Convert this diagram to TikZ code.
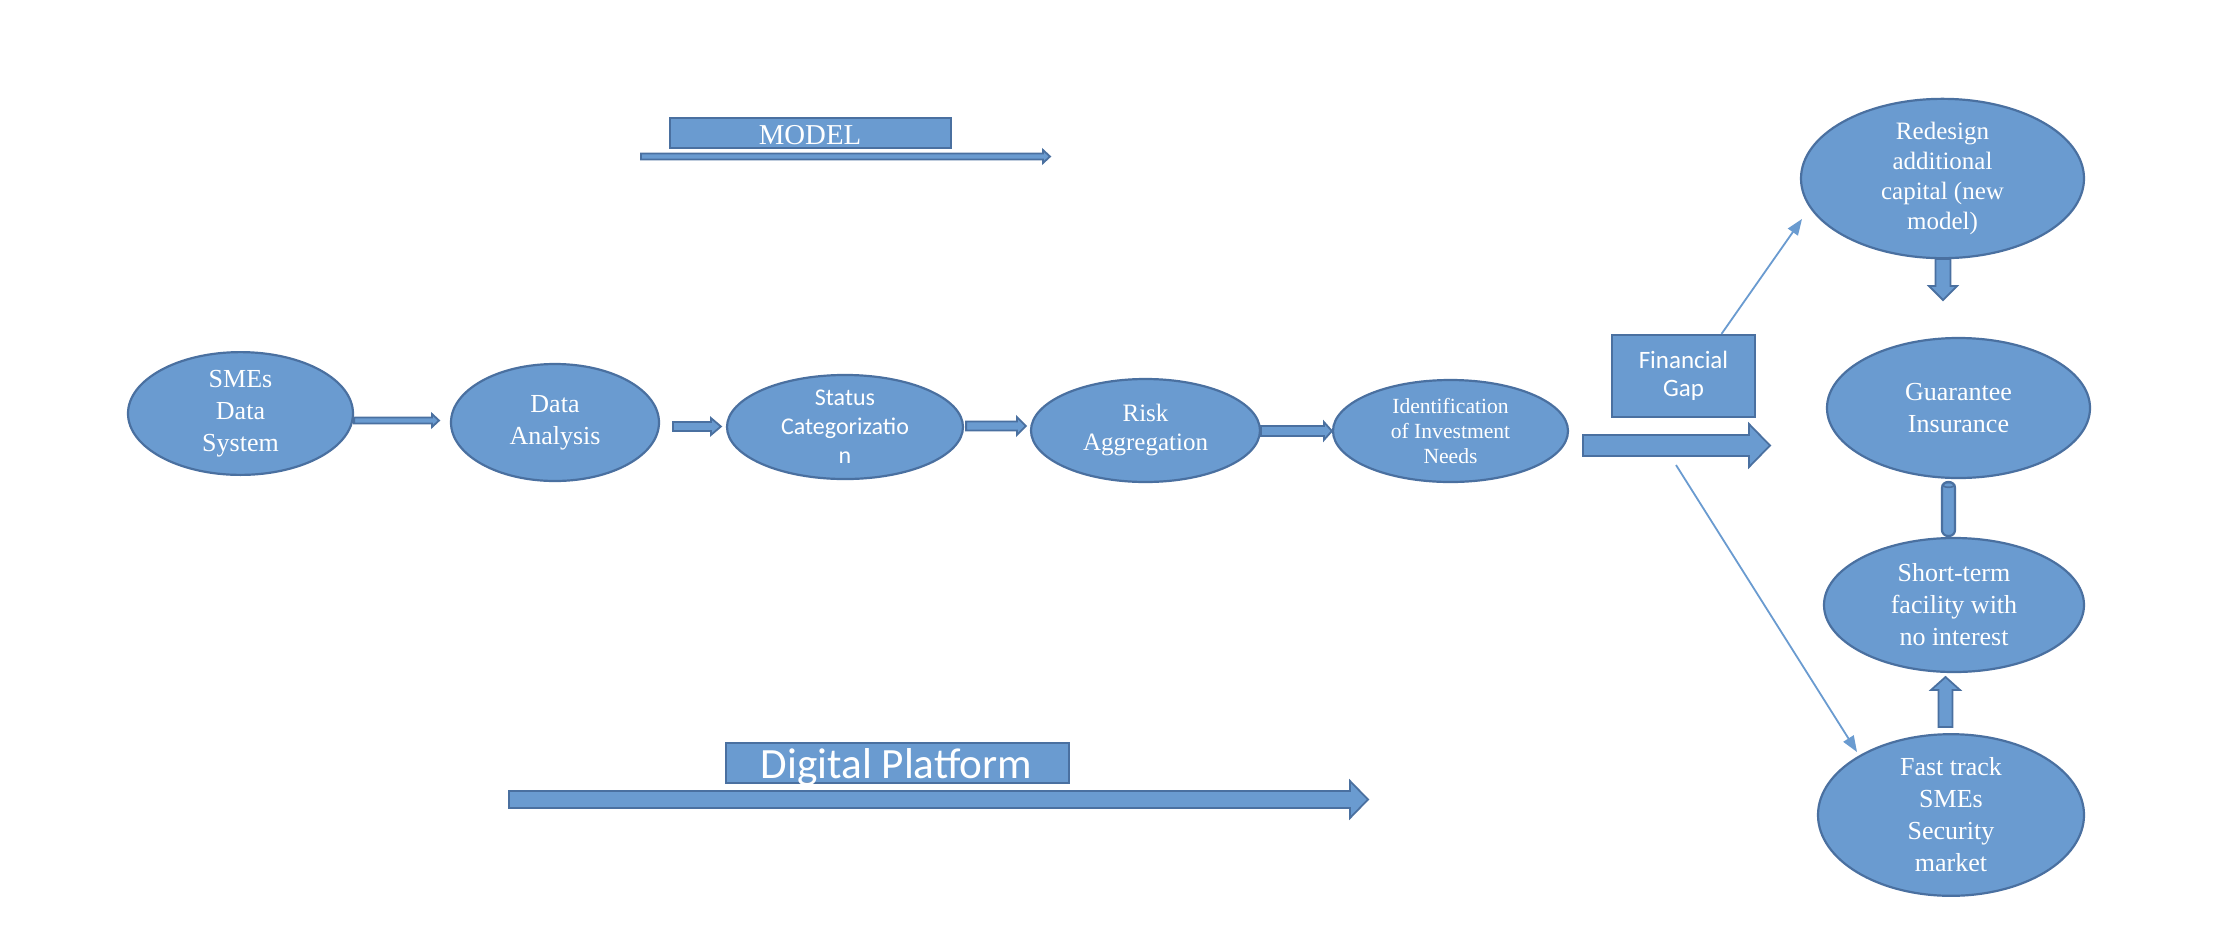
\documentclass[tikz,border=0pt]{standalone}
\usepackage{fontspec}
\setmainfont{Liberation Serif}
\newfontfamily\calib{Carlito}
\usetikzlibrary{shapes.geometric,arrows.meta,calc}
\definecolor{bfill}{HTML}{6A9BD0}
\definecolor{bdraw}{HTML}{4A70A0}
\definecolor{lline}{HTML}{6A9BD0}
% horizontal block arrow: #1 start, #2 tip, #3 shaft half, #4 head half, #5 head length (px)
\newcommand\harrow[5]{\path[barr] let \p1=(#1), \p2=(#2), \n1={ifthenelse(\x2>\x1,1,-1)} in
  (\x1,\y1+#3*0.5pt) -- (\x2-\n1*#5*0.5pt,\y1+#3*0.5pt) -- (\x2-\n1*#5*0.5pt,\y1+#4*0.5pt) --
  (\x2,\y1) -- (\x2-\n1*#5*0.5pt,\y1-#4*0.5pt) -- (\x2-\n1*#5*0.5pt,\y1-#3*0.5pt) --
  (\x1,\y1-#3*0.5pt) -- cycle;}
% vertical block arrow
\newcommand\varrow[5]{\path[barr] let \p1=(#1), \p2=(#2), \n1={ifthenelse(\y2>\y1,1,-1)} in
  (\x1+#3*0.5pt,\y1) -- (\x1+#3*0.5pt,\y2-\n1*#5*0.5pt) -- (\x1+#4*0.5pt,\y2-\n1*#5*0.5pt) --
  (\x1,\y2) -- (\x1-#4*0.5pt,\y2-\n1*#5*0.5pt) -- (\x1-#3*0.5pt,\y2-\n1*#5*0.5pt) --
  (\x1-#3*0.5pt,\y1) -- cycle;}
\begin{document}
\begin{tikzpicture}[x=0.5pt,y=-0.5pt,
  ell/.style={ellipse, draw=bdraw, fill=bfill, line width=1.1pt, text=white, align=center,
    inner sep=0pt, font=\fontsize{13}{16}\selectfont},
  box/.style={rectangle, draw=bdraw, fill=bfill, line width=1.1pt, text=white, align=center, inner sep=0pt},
  barr/.style={draw=bdraw, fill=bfill, line width=0.9pt, line join=miter},
  thinarr/.style={draw=lline, line width=0.9pt, -{Triangle[length=8pt,width=6pt]}},
  lbl/.style={text=white, inner sep=0pt, anchor=base}]
\useasboundingbox (0,0) rectangle (2240,944);
\fill[white] (0,0) rectangle (2240,944);

% top label
\node[box, minimum width=140.5pt, minimum height=15pt] (modelbox) at (810.5,133) {};
\node[lbl, font=\fontsize{14.4}{16}\selectfont] (modeltxt) at (810,144) {MODEL};
\coordinate (ms) at (641,156.5);
\coordinate (me) at (1050,156.5);
\harrow{ms}{me}{3}{6.5}{7}

% main chain
\node[ell, minimum width=112.5pt, minimum height=58.5pt] (sme) at (240.5,413.5) {SMEs\\Data\\System};
\node[ell, minimum width=104pt, minimum height=58.5pt] (da) at (555,422.5) {Data\\Analysis};
\node[ell, minimum width=118pt, minimum height=50pt, font=\calib\fontsize{12}{14.5}\selectfont] (sc) at (845,427) {Status\\Categorizatio\\n};
\node[ell, minimum width=114.5pt, minimum height=51.5pt, font=\fontsize{12.5}{14.5}\selectfont] (ra) at (1145.5,430.5) {Risk\\Aggregation};
\node[ell, minimum width=117.5pt, minimum height=51pt, font=\fontsize{10.8}{12.5}\selectfont] (ii) at (1450.5,431) {Identification\\of Investment\\Needs};

\coordinate (a1s) at ($(sme.east |- 0,420.5)$);
\coordinate (a1e) at (439,420.5);
\harrow{a1s}{a1e}{3}{6.5}{7}
\coordinate (a2s) at (673,426.5);
\coordinate (a2e) at ($(sc.west |- 0,426.5)+(-5,0)$);
\harrow{a2s}{a2e}{4.5}{8.5}{10}
\coordinate (a3s) at ($(sc.east |- 0,426)+(2,0)$);
\coordinate (a3e) at ($(ra.west |- 0,426)+(-4,0)$);
\harrow{a3s}{a3e}{4.5}{9}{9}
\coordinate (a4s) at (1261,431);
\coordinate (a4e) at ($(ii.west)$);
\harrow{a4s}{a4e}{5}{9}{8}

% financial gap
\node[box, minimum width=71.5pt, minimum height=41pt, font=\calib\fontsize{12.5}{14}\selectfont] (fg) at (1683.5,376) {Financial\\Gap};
\coordinate (bs) at (1583,445.5);
\coordinate (be) at (1770,445.5);
\harrow{bs}{be}{10.5}{21.5}{21}

% right column
\node[ell, minimum width=141.5pt, minimum height=73.5pt, font=\fontsize{12.5}{15}\selectfont] (rd) at (1942.5,178.5) {Redesign\\additional\\capital (new\\model)};
\node[ell, minimum width=131.5pt, minimum height=70pt] (gi) at (1958.5,408) {Guarantee\\Insurance};
\node[ell, minimum width=130pt, minimum height=67pt] (st) at (1954,605) {Short-term\\facility with\\no interest};
\node[ell, minimum width=133pt, minimum height=71pt] (ft) at (1951,815) {Fast track\\SMEs\\Security\\market};

\coordinate (d1s) at (1943,259);
\coordinate (d1e) at (1943,300);
\varrow{d1s}{d1e}{7.5}{14}{14}

\node[box, rounded corners=3pt, minimum width=6.5pt, minimum height=27pt] (cyl) at (1948.5,509) {};
\draw[bdraw, line width=0.8pt] ($(cyl.north)+(0,4)$) ellipse [x radius=3pt, y radius=1.2pt];

\coordinate (u1s) at (1945.5,727);
\coordinate (u1e) at (1945.5,677);
\varrow{u1s}{u1e}{7}{14.5}{13}

% thin connectors
\coordinate (t1s) at ($(fg.north)+(38,0)$);
\coordinate (t1e) at (1802,219);
\draw[thinarr] (t1s) -- (t1e);
\coordinate (t2s) at (1676,465);
\coordinate (t2e) at (1857,752);
\draw[thinarr] (t2s) -- (t2e);

% bottom label
\node[box, minimum width=171.5pt, minimum height=20pt] (dpbox) at (897.5,763) {};
\node[lbl, font=\calib\fontsize{21.6}{24}\selectfont] (dptxt) at (896.5,778) {Digital Platform};
\coordinate (ds) at (509,799.5);
\coordinate (de) at (1368,799.5);
\harrow{ds}{de}{8.5}{18.5}{18}
\end{tikzpicture}
\end{document}
